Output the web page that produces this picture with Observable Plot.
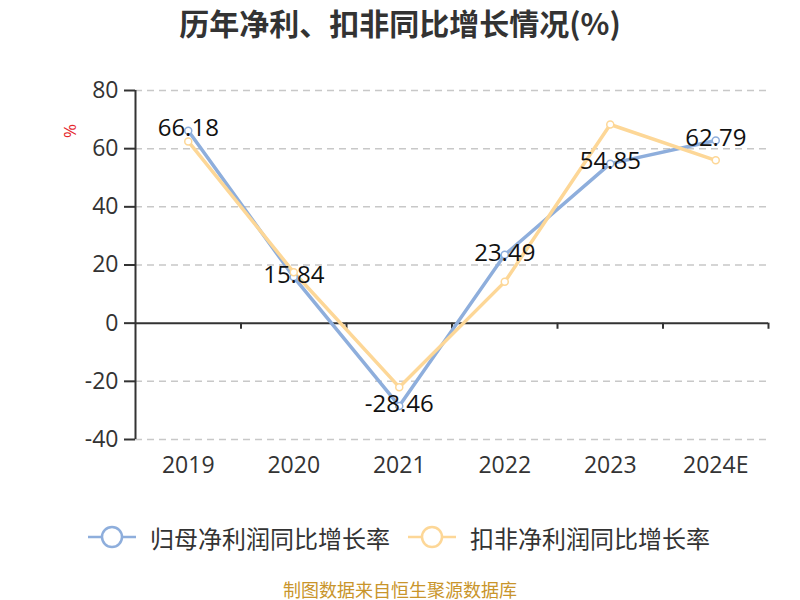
<!DOCTYPE html>
<html>
<head>
<meta charset="utf-8">
<script src="https://cdn.jsdelivr.net/npm/d3@7"></script>
<script src="https://cdn.jsdelivr.net/npm/@observablehq/plot@0.6"></script>
<style>
  body { margin: 0; background: #fff; font-family: "Open Sans", "Noto Sans CJK SC", sans-serif; }
  #wrap { position: relative; width: 800px; height: 600px; overflow: hidden; }
  #title { position: absolute; left: 0; top: 0; width: 800px; height: 45px; line-height: 45px; text-align: center;
    font-family: "Noto Sans CJK SC", sans-serif; font-weight: bold; font-size: 30px; color: #333; }
  #chart { position: absolute; left: 0; top: 45px; }
  #unit { position: absolute; left: 63px; top: 121px; color: #e5262b; font-size: 17px; line-height: 20px; transform: rotate(-90deg); transform-origin: center; z-index: 5; }
  .leg { position: absolute; top: 520px; height: 34px; display: flex; align-items: center;
    font-family: "Noto Sans CJK SC", sans-serif; font-size: 24px; color: #333; }
  .leg svg { margin-right: 14px; }
  #caption { position: absolute; left: 400px; top: 579px; transform: translateX(-50%); white-space: nowrap; line-height: 20px;
    font-family: "Noto Sans CJK SC", sans-serif; font-size: 18px; color: #c9952b; }
</style>
</head>
<body>
<div id="wrap">
  <div id="title">历年净利、扣非同比增长情况(%)</div>
  <div id="chart"></div>
  <div id="unit">%</div>
  <div class="leg" id="leg1" style="left:88px"></div>
  <div class="leg" id="leg2" style="left:408px"></div>
  <div id="caption">制图数据来自恒生聚源数据库</div>
</div>
<script>
const categories = ["2019", "2020", "2021", "2022", "2023", "2024E"];
const netProfitGrowth = [66.18, 15.84, -28.46, 23.49, 54.85, 62.79];
const deductedGrowth = [62.5, 17.5, -22.0, 14.2, 68.3, 56.0];
const seriesNames = ["归母净利润同比增长率", "扣非净利润同比增长率"];
const seriesColors = ["#8eaedc", "#fdd797"];
const yTicks = [-40, -20, 0, 20, 40, 60, 80];

const rows = [];
categories.forEach((c, i) => {
  rows.push({i, cat: c, series: seriesNames[0], value: netProfitGrowth[i]});
  rows.push({i, cat: c, series: seriesNames[1], value: deductedGrowth[i]});
});
const s1 = rows.filter(d => d.series === seriesNames[0]);
const s2 = rows.filter(d => d.series === seriesNames[1]);
const boundaries = categories.map((_, i) => i + 0.5);

const plot = Plot.plot({
  width: 800,
  height: 455,
  marginTop: 45,
  marginBottom: 61,
  marginLeft: 135,
  marginRight: 32,
  style: {fontFamily: "'Open Sans', 'Noto Sans CJK SC', sans-serif", color: "#333", background: "#fff"},
  x: {type: "linear", domain: [-0.5, categories.length - 0.5]},
  y: {domain: [-40, 80]},
  marks: [
    Plot.gridY(yTicks.filter(t => t !== 0), {stroke: "#c8c8c8", strokeOpacity: 1, strokeDasharray: "7,5", strokeWidth: 1.5}),
    Plot.axisY(yTicks, {tickSize: 11, tickPadding: 6, fontSize: 23, stroke: "#333", strokeWidth: 2, fill: "#333", label: null, tickFormat: d => String(d)}),
    Plot.axisX(categories.map((_, i) => i), {tickSize: 0, tickPadding: 17, fontSize: 23, fill: "#333", tickFormat: i => categories[i], label: null}),
    Plot.ruleX([-0.5], {y1: -40, y2: 80, stroke: "#333", strokeWidth: 2}),
    Plot.ruleY([0], {stroke: "#333", strokeWidth: 2}),
    Plot.ruleX(boundaries, {y1: 0, y2: -2.1, stroke: "#333", strokeWidth: 2}),
    Plot.line(s1, {x: "i", y: "value", stroke: seriesColors[0], strokeWidth: 3.5}),
    Plot.line(s2, {x: "i", y: "value", stroke: seriesColors[1], strokeWidth: 3.5}),
    Plot.dot(s1, {x: "i", y: "value", r: 3.5, fill: "#fff", stroke: seriesColors[0], strokeWidth: 1.5}),
    Plot.dot(s2, {x: "i", y: "value", r: 3.5, fill: "#fff", stroke: seriesColors[1], strokeWidth: 1.5}),
    Plot.text(s1, {x: "i", y: "value", text: d => d.value.toFixed(2), fontSize: 24, fill: "#111", dy: -2})
  ]
});
document.getElementById("chart").appendChild(plot);

function legendItem(el, color, name) {
  el.innerHTML = `<svg width="48" height="24"><line x1="0" y1="12" x2="48" y2="12" stroke="${color}" stroke-width="2.5"/><circle cx="24" cy="12" r="10" fill="#fff" stroke="${color}" stroke-width="2.5"/></svg><span>${name}</span>`;
}
legendItem(document.getElementById("leg1"), seriesColors[0], seriesNames[0]);
legendItem(document.getElementById("leg2"), seriesColors[1], seriesNames[1]);
</script>
</body>
</html>
